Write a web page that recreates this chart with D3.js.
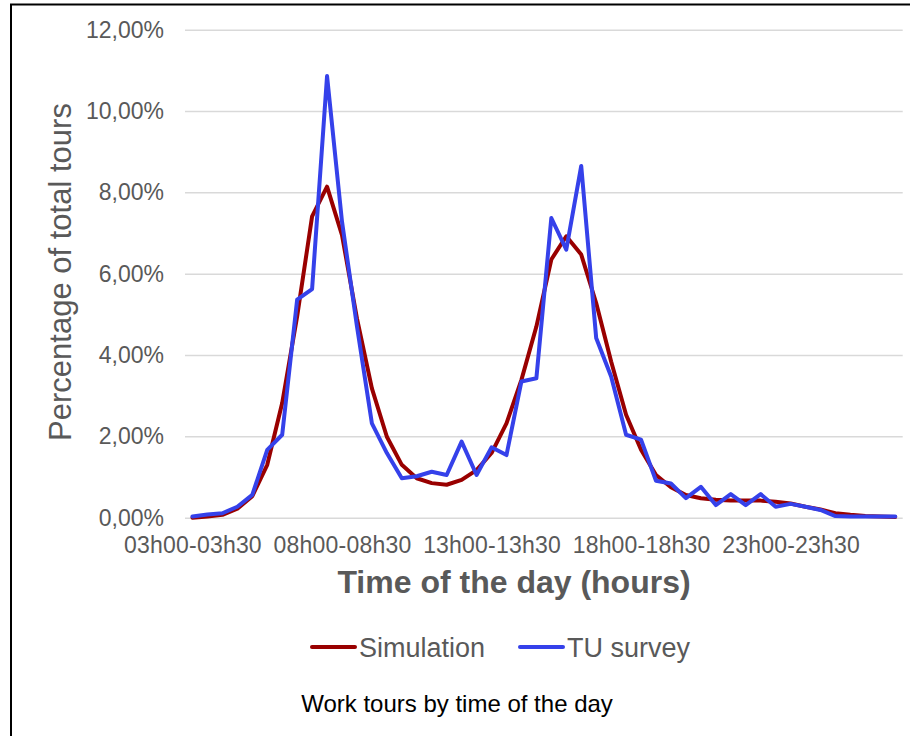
<!DOCTYPE html>
<html lang="en">
<head>
  <meta charset="UTF-8">
  <title>Work tours by time of the day</title>
  <script src="https://d3js.org/d3.v7.min.js" charset="utf-8"></script>
  <style>
    body {
      margin: 0;
      background: #fff;
      font-family: 'Liberation Sans', Arial, sans-serif;
    }
    .grid line { stroke: #d9d9d9; stroke-width: 1.5px; }
    .grid .domain { display: none; }
    .tick text { fill: #595959; }
  </style>
</head>
<body>
  <div id="wrapper"></div>
  <script>
    // half-hour slots, 03h00 to 03h00 next day
    const timeSlots = [
      "03h00-03h30", "03h30-04h00", "04h00-04h30", "04h30-05h00", "05h00-05h30", "05h30-06h00",
      "06h00-06h30", "06h30-07h00", "07h00-07h30", "07h30-08h00", "08h00-08h30", "08h30-09h00",
      "09h00-09h30", "09h30-10h00", "10h00-10h30", "10h30-11h00", "11h00-11h30", "11h30-12h00",
      "12h00-12h30", "12h30-13h00", "13h00-13h30", "13h30-14h00", "14h00-14h30", "14h30-15h00",
      "15h00-15h30", "15h30-16h00", "16h00-16h30", "16h30-17h00", "17h00-17h30", "17h30-18h00",
      "18h00-18h30", "18h30-19h00", "19h00-19h30", "19h30-20h00", "20h00-20h30", "20h30-21h00",
      "21h00-21h30", "21h30-22h00", "22h00-22h30", "22h30-23h00", "23h00-23h30", "23h30-00h00",
      "00h00-00h30", "00h30-01h00", "01h00-01h30", "01h30-02h00", "02h00-02h30", "02h30-03h00"
    ]
    const shownSlots = ["03h00-03h30", "08h00-08h30", "13h00-13h30", "18h00-18h30", "23h00-23h30"]

    // percentage of total tours
    const simulation = [
      0.00, 0.03, 0.07, 0.22, 0.53, 1.30, 2.82, 4.95, 7.41, 8.14,
      6.95, 4.90, 3.18, 1.99, 1.30, 0.97, 0.85, 0.81, 0.93, 1.17,
      1.59, 2.32, 3.39, 4.70, 6.35, 6.92, 6.47, 5.28, 3.84, 2.53,
      1.67, 1.05, 0.75, 0.56, 0.48, 0.44, 0.42, 0.42, 0.42, 0.39,
      0.35, 0.27, 0.20, 0.11, 0.07, 0.04, 0.03, 0.02
    ]
    const tuSurvey = [
      0.03, 0.08, 0.11, 0.27, 0.56, 1.67, 2.04, 5.36, 5.62, 10.86,
      7.28, 4.71, 2.32, 1.59, 0.97, 1.02, 1.13, 1.05, 1.87, 1.05,
      1.73, 1.54, 3.35, 3.43, 7.37, 6.59, 8.65, 4.42, 3.47, 2.04,
      1.92, 0.91, 0.84, 0.48, 0.76, 0.31, 0.58, 0.31, 0.58, 0.27,
      0.34, 0.27, 0.19, 0.04, 0.03, 0.03, 0.03, 0.03
    ]

    const yTicks = [0, 2, 4, 6, 8, 10, 12]
    const yTickLabels = ["0,00%", "2,00%", "4,00%", "6,00%", "8,00%", "10,00%", "12,00%"]

    const seriesNames = ["Simulation", "TU survey"]
    const seriesColors = ["#990000", "#3541ea"]

    const dimensions = {
      width: 910,
      height: 736,
      margin: { top: 29.7, right: 7.3, bottom: 218.3, left: 185 }
    }
    dimensions.boundedWidth = dimensions.width - dimensions.margin.left - dimensions.margin.right
    dimensions.boundedHeight = dimensions.height - dimensions.margin.top - dimensions.margin.bottom

    const wrapper = d3.select("#wrapper")
      .append("svg")
        .attr("width", dimensions.width)
        .attr("height", dimensions.height)

    // outer frame, cut off at right and bottom
    wrapper.append("rect")
      .attr("x", 11)
      .attr("y", 4.5)
      .attr("width", 940)
      .attr("height", 780)
      .attr("fill", "none")
      .attr("stroke", "#000")
      .attr("stroke-width", 2)

    const bounds = wrapper.append("g")
      .attr("transform", `translate(${dimensions.margin.left}, ${dimensions.margin.top})`)

    const xScale = d3.scalePoint()
      .domain(timeSlots)
      .range([0, dimensions.boundedWidth])
      .padding(0.5)

    const yScale = d3.scaleLinear()
      .domain([0, 12])
      .range([dimensions.boundedHeight, 0])

    const yAxis = bounds.append("g")
      .attr("class", "grid")
      .call(d3.axisLeft(yScale)
        .tickValues(yTicks)
        .tickSize(-dimensions.boundedWidth)
        .tickFormat((d, i) => yTickLabels[i]))
    yAxis.selectAll(".tick text")
      .attr("x", -21)
      .style("font-size", "23px")
      .style("font-family", "'Liberation Sans', Arial, sans-serif")

    const xAxis = bounds.append("g")
      .attr("transform", `translate(0, ${dimensions.boundedHeight})`)
      .call(d3.axisBottom(xScale).tickValues(shownSlots).tickSize(0))
    xAxis.select(".domain").remove()
    xAxis.selectAll(".tick text")
      .attr("dy", 0)
      .attr("y", 35)
      .style("font-size", "23px")
      .style("letter-spacing", "0.2px")
      .style("font-family", "'Liberation Sans', Arial, sans-serif")

    const lineGenerator = d3.line()
      .x((d, i) => xScale(timeSlots[i]))
      .y(d => yScale(d))

    ;[simulation, tuSurvey].forEach((values, k) => {
      bounds.append("path")
        .datum(values)
        .attr("d", lineGenerator)
        .attr("fill", "none")
        .attr("stroke", seriesColors[k])
        .attr("stroke-width", 4)
        .attr("stroke-linejoin", "round")
        .attr("stroke-linecap", "round")
    })

    // axis titles
    wrapper.append("text")
      .attr("transform", "translate(71, 272) rotate(-90)")
      .attr("text-anchor", "middle")
      .attr("fill", "#595959")
      .style("font-size", "31px")
      .text("Percentage of total tours")

    wrapper.append("text")
      .attr("x", 514)
      .attr("y", 593)
      .attr("text-anchor", "middle")
      .attr("fill", "#595959")
      .style("font-size", "32px")
      .style("font-weight", "bold")
      .text("Time of the day (hours)")

    // legend
    const legendItems = [
      { x: 312, name: seriesNames[0], color: seriesColors[0] },
      { x: 520, name: seriesNames[1], color: seriesColors[1] }
    ]
    const legend = wrapper.append("g").attr("transform", "translate(0, 647)")
    legendItems.forEach(item => {
      legend.append("line")
        .attr("x1", item.x).attr("x2", item.x + 43)
        .attr("y1", 0).attr("y2", 0)
        .attr("stroke", item.color)
        .attr("stroke-width", 4)
        .attr("stroke-linecap", "round")
      legend.append("text")
        .attr("x", item.x + 47)
        .attr("y", 10)
        .attr("fill", "#595959")
        .style("font-size", "27px")
        .text(item.name)
    })

    wrapper.append("text")
      .attr("x", 457)
      .attr("y", 712)
      .attr("text-anchor", "middle")
      .attr("fill", "#000")
      .style("font-size", "24px")
      .text("Work tours by time of the day")
  </script>
</body>
</html>
